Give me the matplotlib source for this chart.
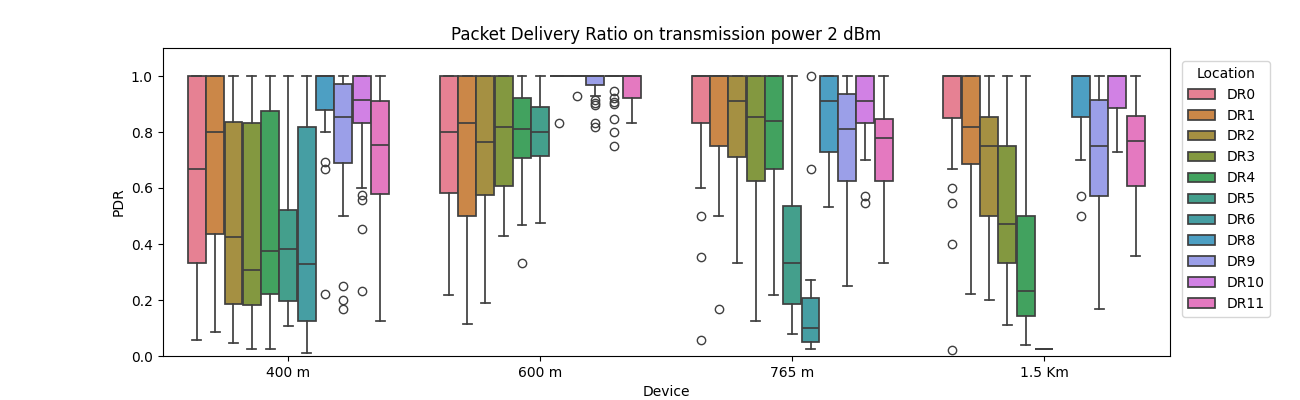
import matplotlib
matplotlib.use("Agg")
import matplotlib.pyplot as plt
import seaborn as sns
from matplotlib.patches import Patch

devices = ["400 m", "600 m", "765 m", "1.5 Km"]
locations = ["DR0", "DR1", "DR2", "DR3", "DR4", "DR5", "DR6", "DR8", "DR9", "DR10", "DR11"]

# per device: list of (whislo, q1, med, q3, whishi, fliers) per location (None = no data)
d400 = [
    (0.057, 0.331, 0.667, 1.0, 1.0, []),
    (0.085, 0.436, 0.799, 1.0, 1.0, []),
    (0.045, 0.185, 0.426, 0.835, 1.0, []),
    (0.024, 0.181, 0.307, 0.832, 1.0, []),
    (0.024, 0.220, 0.374, 0.874, 1.0, []),
    (0.107, 0.195, 0.383, 0.523, 1.0, []),
    (0.010, 0.125, 0.327, 0.819, 1.0, []),
    (0.800, 0.879, 1.0, 1.0, 1.0, [0.694, 0.667, 0.221]),
    (0.500, 0.688, 0.855, 0.970, 1.0, [0.25, 0.2, 0.169]),
    (0.601, 0.832, 0.915, 1.0, 1.0, [0.575, 0.557, 0.452, 0.232]),
    (0.125, 0.579, 0.752, 0.909, 1.0, []),
]
d600 = [
    (0.217, 0.581, 0.799, 1.0, 1.0, []),
    (0.114, 0.500, 0.831, 1.0, 1.0, []),
    (0.188, 0.574, 0.763, 1.0, 1.0, []),
    (0.427, 0.607, 0.817, 1.0, 1.0, []),
    (0.468, 0.707, 0.810, 0.923, 1.0, [0.331]),
    (0.475, 0.713, 0.800, 0.890, 1.0, []),
    (1.0, 1.0, 1.0, 1.0, 1.0, [0.831]),
    (1.0, 1.0, 1.0, 1.0, 1.0, [0.929]),
    (0.93, 0.967, 1.0, 1.0, 1.0, [0.914, 0.905, 0.895, 0.831, 0.817]),
    (1.0, 1.0, 1.0, 1.0, 1.0, [0.948, 0.920, 0.908, 0.899, 0.845, 0.800, 0.750]),
    (0.831, 0.920, 1.0, 1.0, 1.0, []),
]
d765 = [
    (0.601, 0.832, 1.0, 1.0, 1.0, [0.5, 0.352, 0.057]),
    (0.500, 0.749, 1.0, 1.0, 1.0, [0.168]),
    (0.332, 0.712, 0.909, 1.0, 1.0, []),
    (0.125, 0.624, 0.852, 1.0, 1.0, []),
    (0.217, 0.668, 0.839, 1.0, 1.0, []),
    (0.079, 0.185, 0.332, 0.535, 1.0, []),
    (0.024, 0.050, 0.099, 0.206, 0.271, [1.0, 0.668]),
    (0.532, 0.727, 0.909, 1.0, 1.0, []),
    (0.249, 0.624, 0.810, 0.935, 1.0, []),
    (0.700, 0.832, 0.909, 1.0, 1.0, [0.571, 0.548]),
    (0.332, 0.624, 0.777, 0.848, 1.0, []),
]
d15 = [
    (0.668, 0.849, 1.0, 1.0, 1.0, [0.6, 0.545, 0.4, 0.021]),
    (0.220, 0.685, 0.817, 1.0, 1.0, []),
    (0.200, 0.499, 0.749, 0.855, 1.0, []),
    (0.110, 0.331, 0.471, 0.749, 1.0, []),
    (0.039, 0.142, 0.232, 0.499, 1.0, []),
    (0.024, 0.024, 0.024, 0.024, 0.024, []),
    None,
    (0.700, 0.852, 1.0, 1.0, 1.0, [0.571, 0.5]),
    (0.168, 0.571, 0.749, 0.915, 1.0, []),
    (0.727, 0.885, 1.0, 1.0, 1.0, []),
    (0.356, 0.607, 0.768, 0.858, 1.0, []),
]
data = [d400, d600, d765, d15]

pal = [sns.desaturate(c, 0.75) for c in sns.color_palette("husl", len(locations))]
lc = "#3f3f3f"

fig, ax = plt.subplots(figsize=(13, 4), dpi=100)
n = len(locations)
w = 0.8 / n
for gi, grp in enumerate(data):
    for li, st in enumerate(grp):
        if st is None:
            continue
        lo, q1, med, q3, hi, fl = st
        pos = gi - 0.4 + w * (li + 0.5)
        ax.bxp([dict(whislo=lo, q1=q1, med=med, q3=q3, whishi=hi, fliers=fl)],
               positions=[pos], widths=w * 0.98, patch_artist=True, manage_ticks=False,
               boxprops=dict(facecolor=pal[li], edgecolor=lc, linewidth=1.25),
               medianprops=dict(color=lc, linewidth=1.25),
               whiskerprops=dict(color=lc, linewidth=1.25),
               capprops=dict(color=lc, linewidth=1.25),
               flierprops=dict(marker="o", markerfacecolor="none", markeredgecolor=lc,
                               markersize=6, linewidth=0))

ax.set_xticks(range(len(devices)))
ax.set_xticklabels(devices)
ax.set_xlim(-0.5, len(devices) - 0.5)
ax.set_ylim(0, 1.1)
ax.set_xlabel("Device")
ax.set_ylabel("PDR")
ax.set_title("Packet Delivery Ratio on transmission power 2 dBm")
handles = [Patch(facecolor=pal[i], edgecolor=lc, linewidth=1.25, label=l) for i, l in enumerate(locations)]
ax.legend(handles=handles, title="Location", loc="upper left", bbox_to_anchor=(1.005, 0.98))
plt.subplots_adjust(left=0.125, right=0.9, top=0.88, bottom=0.11)
fig.savefig("out.png")
